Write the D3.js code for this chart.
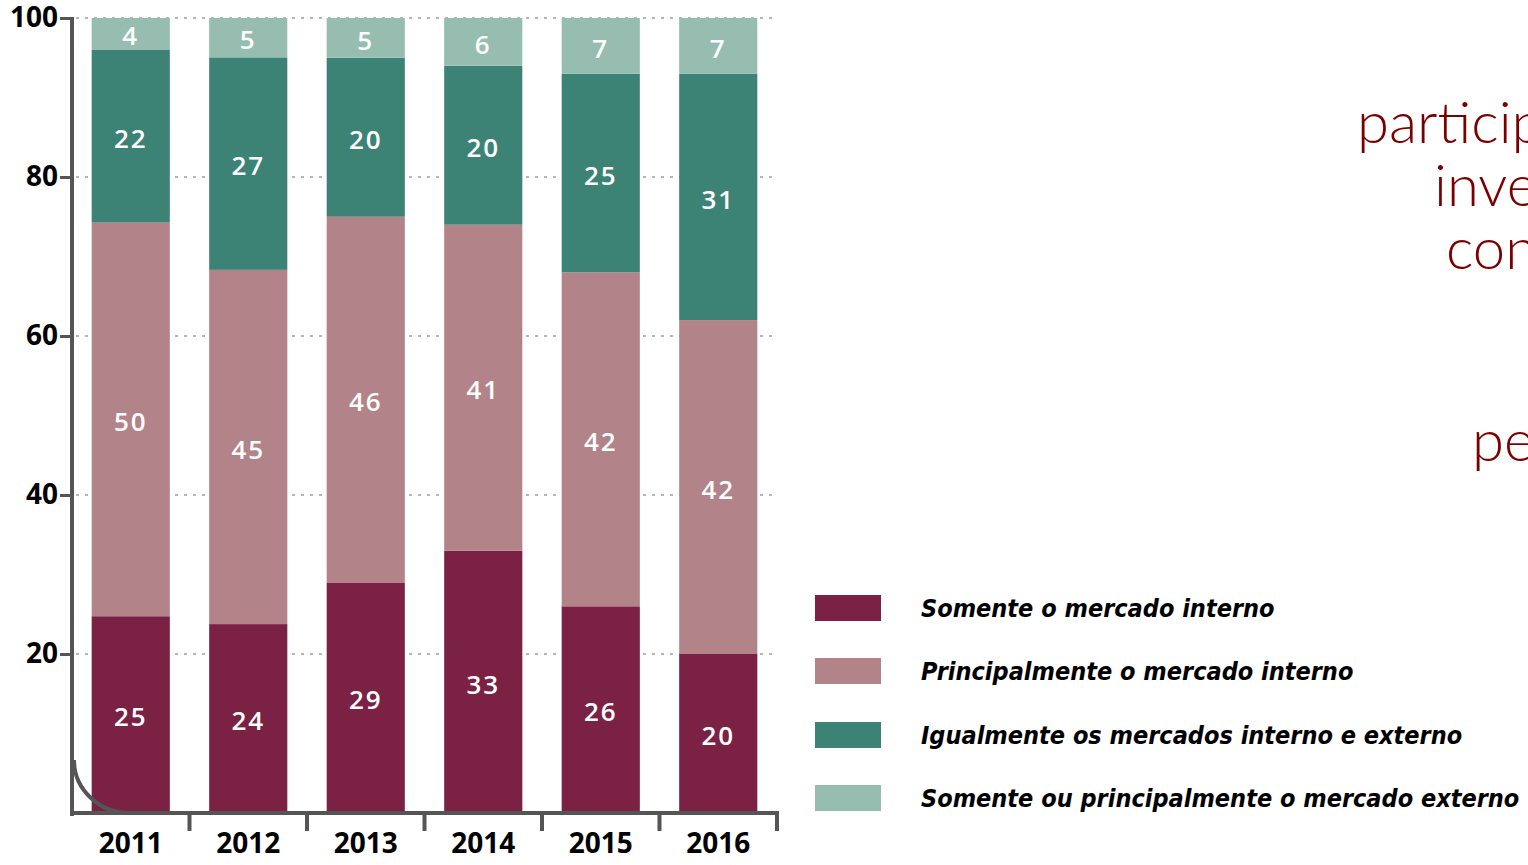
<!DOCTYPE html>
<html><head><meta charset="utf-8">
<script src="https://cdn.jsdelivr.net/npm/d3@7"></script>
<style>html,body{margin:0;padding:0;background:#fff;overflow:hidden}</style>
</head><body>
<svg id="c" width="1528" height="865"></svg>
<script>
const years = ["2011","2012","2013","2014","2015","2016"];
const seriesNames = ["Somente o mercado interno","Principalmente o mercado interno","Igualmente os mercados interno e externo","Somente ou principalmente o mercado externo"];
const somenteInterno = [25,24,29,33,26,20];
const principalInterno = [50,45,46,41,42,42];
const igualmente = [22,27,20,20,25,31];
const externo = [4,5,5,6,7,7];
const yTicks = [20,40,60,80,100];
const colors = ["#7b2143","#b3838a","#3d8375","#96bdb0"];
const sideText = ["particip","inve","con","pe"];

const svg = d3.select("#c");
const series = [somenteInterno, principalInterno, igualmente, externo];
const rows = years.map((y,i)=>{const o={year:y}; series.forEach((s,k)=>o["s"+k]=s[i]); return o;});
const keys = series.map((s,k)=>"s"+k);
const stack = d3.stack().keys(keys).offset(d3.stackOffsetExpand)(rows);

const x = d3.scaleBand().domain(years).range([72,777]).paddingInner(0.335).paddingOuter(0.1675);
const y = d3.scaleLinear().domain([0,100]).range([813,18]);

// grid
svg.append("g").selectAll("line").data(yTicks).join("line")
  .attr("x1",76).attr("x2",777).attr("y1",d=>y(d)).attr("y2",d=>y(d))
  .attr("stroke","#b5b5b5").attr("stroke-width",2).attr("stroke-dasharray","3,6");

// bars
const g = svg.append("g");
stack.forEach((layer,k)=>{
  g.append("g").selectAll("rect").data(layer).join("rect")
    .attr("x",d=>x(d.data.year)).attr("width",x.bandwidth())
    .attr("y",d=>y(d[1]*100)).attr("height",d=>y(d[0]*100)-y(d[1]*100))
    .attr("fill",colors[k]);
  g.append("g").selectAll("text").data(layer).join("text")
    .attr("x",d=>x(d.data.year)+x.bandwidth()/2)
    .attr("y",d=>y((d[0]+d[1])/2*100))
    .attr("dy","0.45em").attr("text-anchor","middle")
    .attr("fill","#fff").attr("font-family","Open Sans").attr("font-weight",600)
    .attr("font-size",26).attr("letter-spacing",2)
    .text(d=>d.data["s"+k]);
});

// axes
const axCol = "#555";
const yAxis = svg.append("g").attr("transform","translate(72,0)")
  .call(d3.axisLeft(y).tickValues(yTicks).tickSize(12).tickPadding(2));
yAxis.select(".domain").remove();
yAxis.selectAll(".tick line").attr("stroke",axCol).attr("stroke-width",3);
yAxis.selectAll(".tick text").attr("font-family","Open Sans").attr("font-weight",700)
  .attr("font-size",28).attr("fill","#000");
svg.append("line").attr("x1",72).attr("x2",72).attr("y1",17).attr("y2",816)
  .attr("stroke",axCol).attr("stroke-width",4);
svg.append("path").attr("d","M74,760 A56,53 0 0 0 130,813")
  .attr("fill","none").attr("stroke",axCol).attr("stroke-width",4);

const xAxis = svg.append("g").attr("transform","translate(0,813)")
  .call(d3.axisBottom(x).tickSize(0).tickPadding(20));
xAxis.select(".domain").remove();
xAxis.selectAll(".tick text").attr("font-family","Open Sans").attr("font-weight",700)
  .attr("font-size",28).attr("fill","#000");
svg.append("line").attr("x1",72).attr("x2",779).attr("y1",813).attr("y2",813)
  .attr("stroke",axCol).attr("stroke-width",4);
const bounds = years.map(d=>x(d)+x.bandwidth()+x.step()*x.paddingInner()/2);
svg.append("g").selectAll("line").data(bounds).join("line")
  .attr("x1",d=>d).attr("x2",d=>d).attr("y1",811).attr("y2",831)
  .attr("stroke",axCol).attr("stroke-width",4);

// legend
const lg = svg.append("g");
const legY = [608,671,735,798];
seriesNames.forEach((n,i)=>{
  lg.append("rect").attr("x",815).attr("y",legY[i]-13).attr("width",66).attr("height",26).attr("fill",colors[i]);
  lg.append("text").attr("x",921).attr("y",legY[i]).attr("dy","0.35em")
    .attr("font-family","DejaVu Sans Condensed").attr("font-weight",700).attr("font-style","italic")
    .attr("font-size",25).attr("fill","#000").text(n);
});

// side text
const sideX = [1357,1434,1446,1472];
const sideY = [143,206,269,461];
svg.append("g").selectAll("text").data(sideText).join("text")
  .attr("x",(d,i)=>sideX[i]).attr("y",(d,i)=>sideY[i])
  .attr("font-family","Lato").attr("font-weight",300).attr("font-size",58)
  .attr("fill","#7a0000").text(d=>d);
</script>
</body></html>
